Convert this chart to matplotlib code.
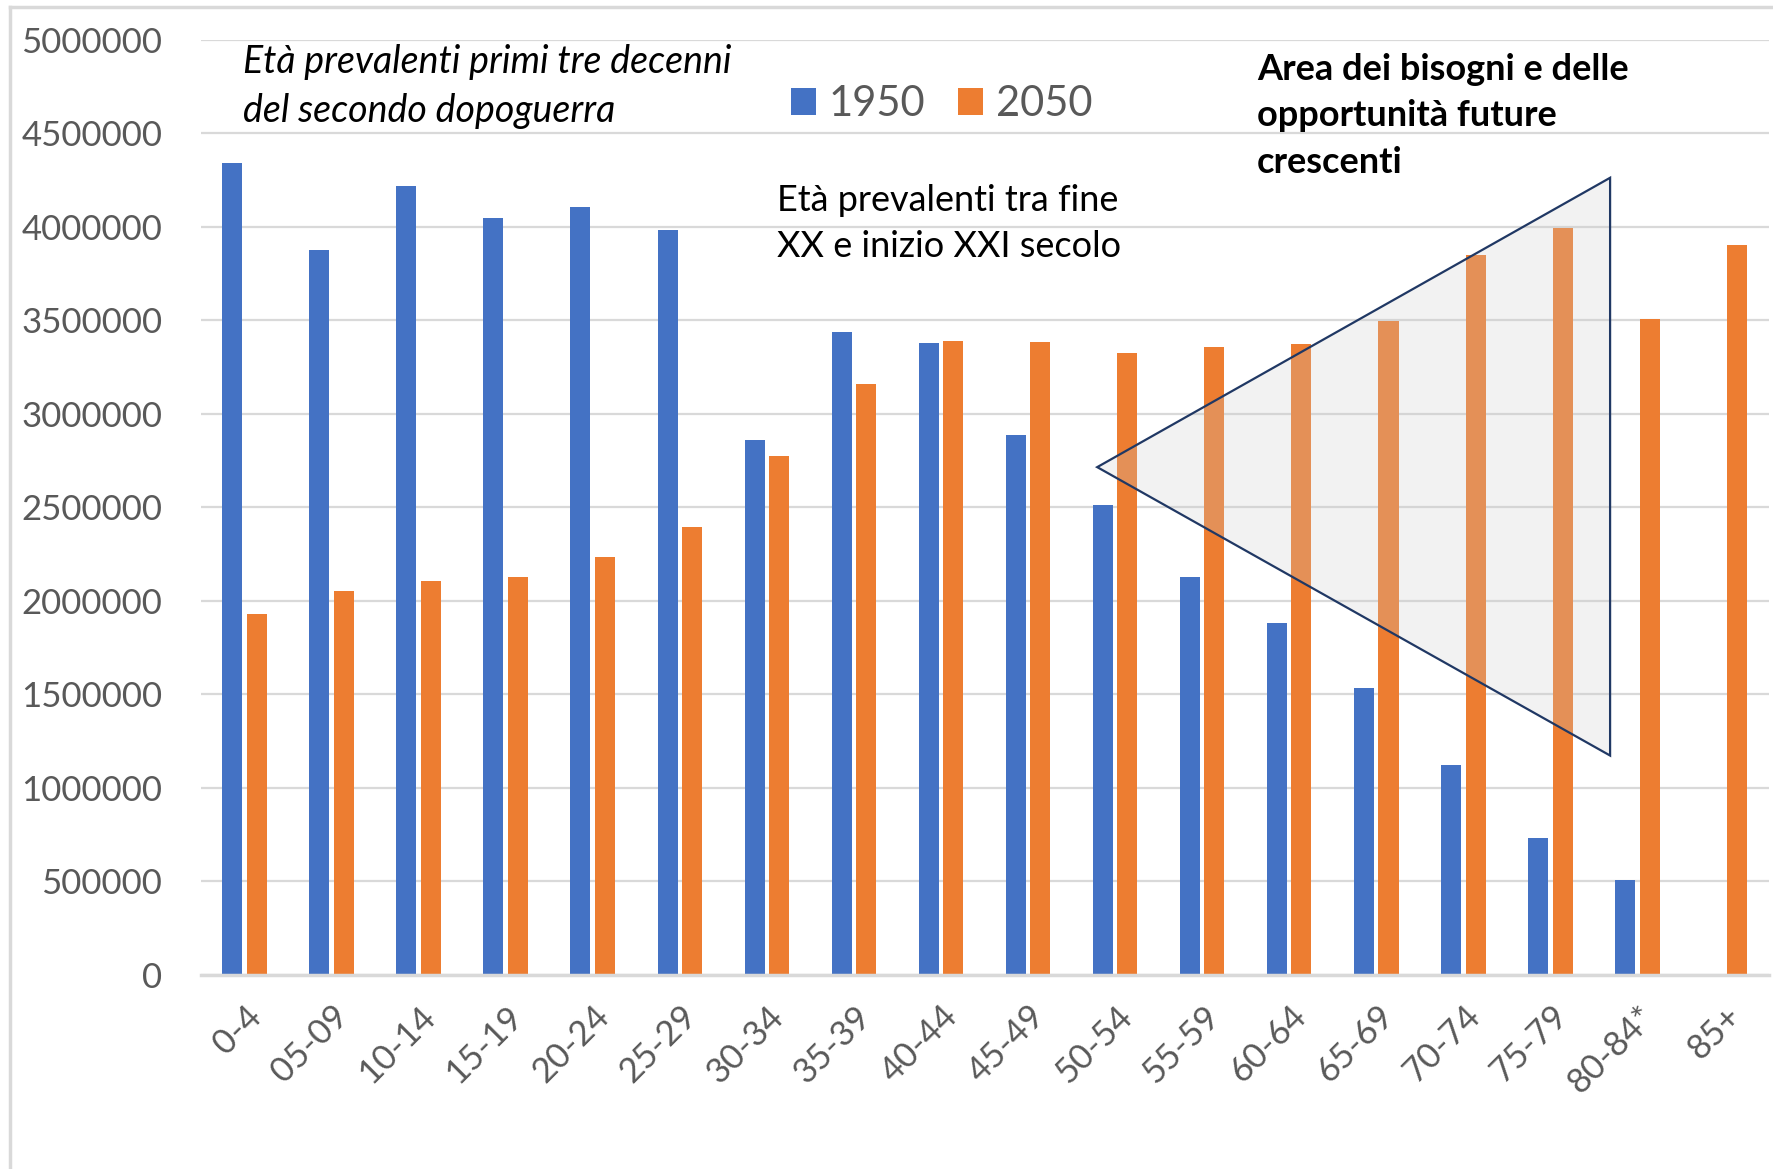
import numpy as np
import matplotlib.pyplot as plt
from matplotlib.lines import Line2D

# age groups and population counts
age_groups = ['0-4', '05-09', '10-14', '15-19', '20-24', '25-29', '30-34', '35-39', '40-44',
              '45-49', '50-54', '55-59', '60-64', '65-69', '70-74', '75-79', '80-84*', '85+']
pop_1950 = [4340000, 3875000, 4220000, 4045000, 4105000, 3985000, 2860000, 3435000, 3380000,
            2885000, 2510000, 2128000, 1880000, 1535000, 1120000, 730000, 508000, np.nan]
pop_2050 = [1930000, 2055000, 2105000, 2128000, 2237000, 2394000, 2775000, 3158000, 3392000,
            3386000, 3325000, 3355000, 3374000, 3495000, 3851000, 3996000, 3507000, 3900000]

# triangle highlighting the "area of future needs" (category index, value)
triangle_x = [9.79, 15.68, 15.68]
triangle_y = [2715000, 4262000, 1173000]


def main():
    plt.rcParams['font.family'] = ['Lato', 'DejaVu Sans']

    fig = plt.figure(figsize=(17.73, 11.69), dpi=100)
    ax = fig.add_axes([0.1135, 0.166, 0.884, 0.8])

    blue = '#4472C4'
    orange = '#ED7D31'
    grid = '#D9D9D9'
    tick_col = '#595959'

    index = np.arange(len(age_groups))
    bar_width = 0.23

    ax.bar(index - 0.145, pop_1950, bar_width, color=blue, label='1950', zorder=2)
    ax.bar(index + 0.135, pop_2050, bar_width, color=orange, label='2050', zorder=2)

    ax.fill(triangle_x, triangle_y, facecolor='#CCCCCC', alpha=0.25, zorder=3)
    ax.fill(triangle_x, triangle_y, facecolor='none', edgecolor='#203864', lw=1.6, zorder=4)

    ax.set_xlim(-0.5, len(age_groups) - 0.5)
    ax.set_ylim(0, 5000000)
    ax.set_yticks(np.arange(0, 5000001, 500000))
    ax.set_yticklabels([str(v) for v in range(0, 5000001, 500000)])
    ax.yaxis.grid(True, color=grid, lw=1.6, zorder=0)
    ax.set_axisbelow(True)
    for s in ['top', 'right', 'left']:
        ax.spines[s].set_visible(False)
    ax.spines['bottom'].set_color(grid)
    ax.spines['bottom'].set_linewidth(2.5)
    ax.tick_params(axis='both', length=0, labelsize=25, colors=tick_col)
    ax.tick_params(axis='y', pad=28)

    ax.set_xticks(index)
    ax.set_xticklabels(age_groups, rotation=45, ha='right', va='top', rotation_mode='anchor')
    ax.tick_params(axis='x', pad=18)

    fig.legend(loc='center', bbox_to_anchor=(0.531, 0.911), ncol=2, frameon=False,
               fontsize=30, handlelength=0.6, handleheight=0.6, handletextpad=0.3,
               columnspacing=0.8, labelcolor=tick_col)

    fig.text(0.137, 0.962, 'Età prevalenti primi tre decenni\ndel secondo dopoguerra',
             fontsize=27, style='italic', va='top', ha='left', linespacing=1.45)
    fig.text(0.438, 0.843, 'Età prevalenti tra fine\nXX e inizio XXI secolo',
             fontsize=26, va='top', ha='left', linespacing=1.5)
    fig.text(0.709, 0.955, 'Area dei bisogni e delle\nopportunità future\ncrescenti',
             fontsize=26, fontweight='bold', va='top', ha='left', linespacing=1.5)

    # outer chart frame
    fig.add_artist(Line2D([0.0056, 1], [0.994, 0.994], color=grid, lw=2.5))
    fig.add_artist(Line2D([0.0056, 0.0056], [0, 0.994], color=grid, lw=2.5))

    fig.savefig('out.png', dpi=100)


if __name__ == '__main__':
    main()
